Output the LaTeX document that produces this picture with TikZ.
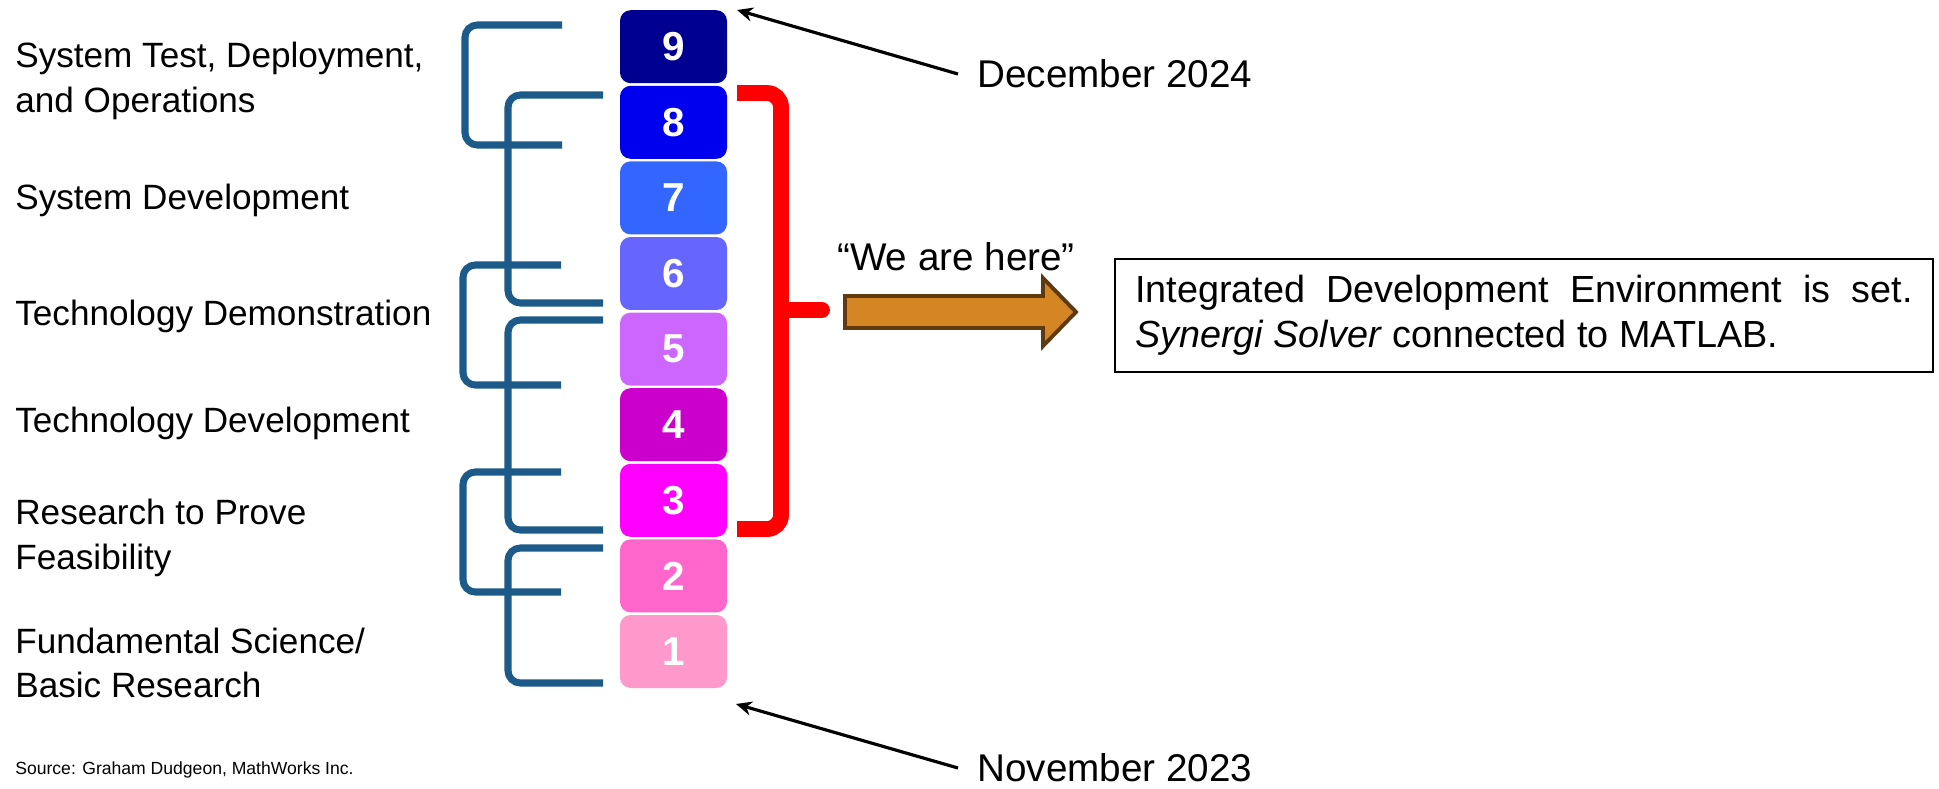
\documentclass[tikz,border=0pt]{standalone}
\usepackage{fontspec}
\setmainfont{Liberation Sans}
\usetikzlibrary{arrows.meta,positioning}

\definecolor{trl1}{HTML}{FF99CC}
\definecolor{trl2}{HTML}{FF66CC}
\definecolor{trl3}{HTML}{FF00FF}
\definecolor{trl4}{HTML}{CC00CC}
\definecolor{trl5}{HTML}{CC66FF}
\definecolor{trl6}{HTML}{6666FF}
\definecolor{trl7}{HTML}{3366FF}
\definecolor{trl8}{HTML}{0000EE}
\definecolor{trl9}{HTML}{000090}
\definecolor{brk}{HTML}{1C5A8A}
\definecolor{arrfill}{HTML}{D58624}
\definecolor{arredge}{HTML}{5E3A0E}

\begin{document}
\begin{tikzpicture}[x=0.02cm,y=-0.02cm,
    trl/.style={rounded corners=6pt,minimum width=2.14cm,minimum height=1.46cm,inner sep=0pt,
        text=white,font=\fontsize{23}{23}\selectfont\bfseries},
    phase/.style={draw=brk,line width=4pt,rounded corners=7pt},
    stage/.style={anchor=west,align=left,inner sep=0pt,font=\fontsize{20}{25.5}\selectfont},
    date/.style={anchor=west,inner xsep=0.38cm,inner ysep=0pt,font=\fontsize{22}{26}\selectfont},
    pointer/.style={-{Stealth[length=9pt,width=8pt]},line width=1.8pt}]
    \useasboundingbox (0,0) rectangle (1939,788);
    % the nine levels, 1 at the bottom
    \foreach \n in {1,...,9}
        \node[trl,fill=trl\n] (l\n) at (673.5,{651.5-(\n-1)*75.6}) {\n};
    % brackets joining the levels to the stages
    \foreach \ya/\yb/\xv/\xe in {25/145/465/562,95/303/508/603,265/385/463/561,
                                320/530/508/603,472/592/463/561,548/683/508/603}
        \draw[phase] (\xe,\ya) -- (\xv,\ya) -- (\xv,\yb) -- (\xe,\yb);
    % stage names
    \node[stage] (ops) at (15,81) {System Test, Deployment,\\and Operations};
    \node[stage] (sysdev) at (15,200) {System Development};
    \node[stage] (demo) at (15,316) {Technology Demonstration};
    \node[stage] (techdev) at (15,423) {Technology Development};
    \node[stage] (feas) at (15,538) {Research to Prove\\Feasibility};
    \node[stage] (basic) at (15,663) {Fundamental Science/\\Basic Research};
    \node[anchor=west,inner sep=0pt,font=\fontsize{10}{12}\selectfont] (src) at (15,770)
        {Source: Graham Dudgeon, MathWorks Inc.};
    % dates
    \coordinate (top9) at (737,10);
    \coordinate (bot1) at (736,704);
    \node[date] (dec) at (958,74) {December 2024};
    \node[date] (nov) at (958,768) {November 2023};
    \draw[pointer] (dec.west) -- (top9);
    \draw[pointer] (nov.west) -- (bot1);
    % current span
    \draw[red,line width=9pt,rounded corners=8pt] (737,93) -- (781,93) -- (781,529) -- (737,529);
    \draw[red,line width=9pt,line cap=round] (781,310) -- (822,310);
    \node[inner sep=0pt,font=\fontsize{22}{26}\selectfont] (here) at (956,257) {“We are here”};
    \draw[fill=arrfill,draw=arredge,line width=2.2pt] (845,296) -- (1043,296) -- (1043,278)
        -- (1076,312) -- (1043,346) -- (1043,328) -- (845,328) -- cycle;
    \node[draw,line width=1.5pt,text width=15.56cm,inner xsep=0.4cm,minimum height=2.26cm,
        align=justify,font=\fontsize{21.5}{25.5}\selectfont] (ide) at (1524,315.5)
        {Integrated Development Environment is set.\linebreak \textit{Synergi Solver} connected to MATLAB.};
\end{tikzpicture}
\end{document}
